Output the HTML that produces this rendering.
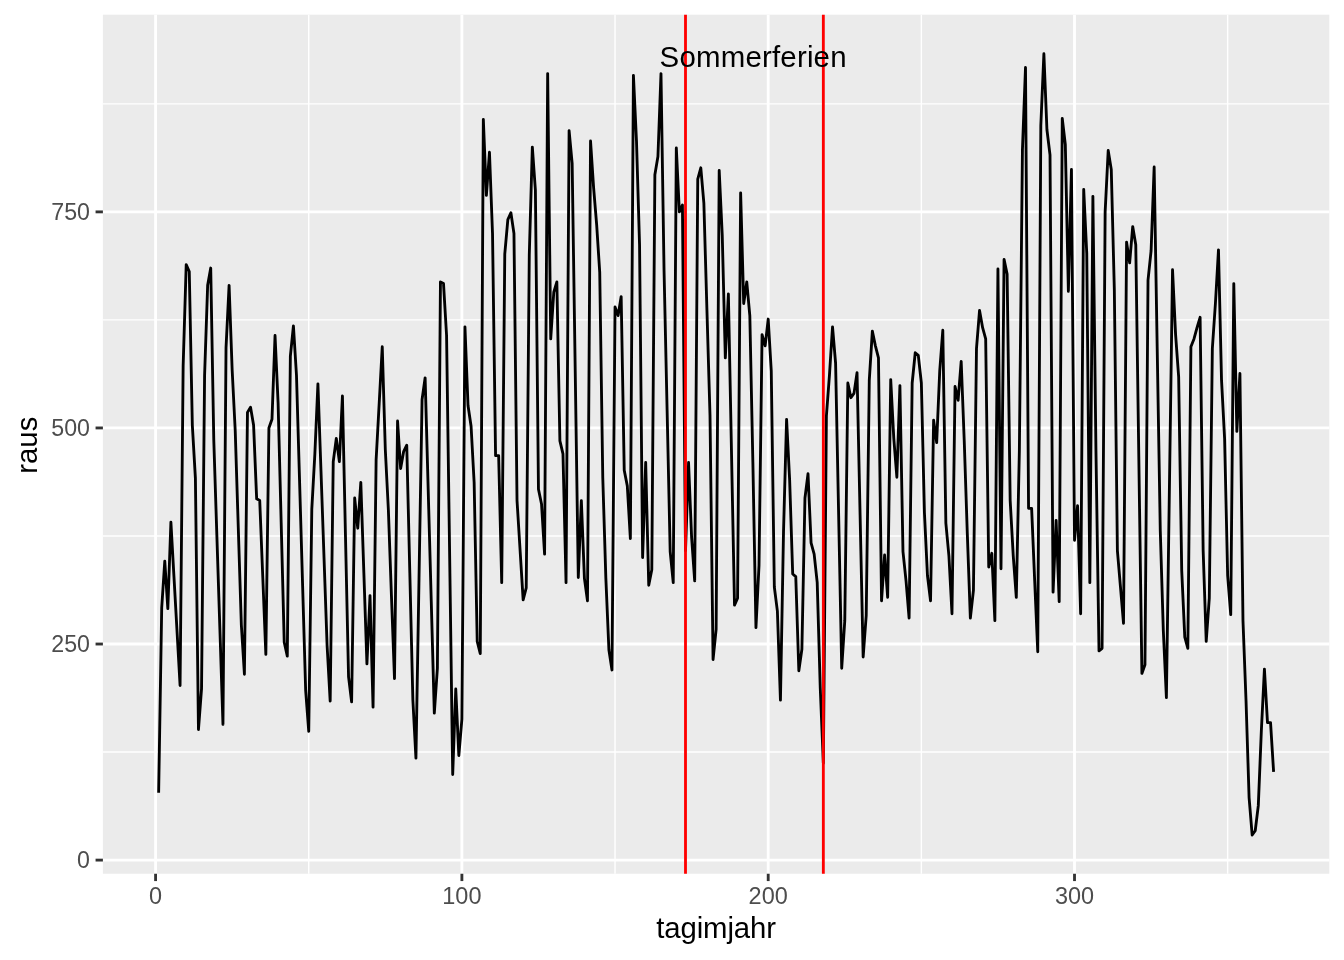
<!DOCTYPE html>
<html><head><meta charset="utf-8"><title>plot</title>
<style>html,body{margin:0;padding:0;background:#fff}svg{display:block}text{font-family:"Liberation Sans",sans-serif}</style>
</head><body>
<svg width="1344" height="960" viewBox="0 0 1344 960">
<rect width="1344" height="960" fill="#fff"/>
<rect x="102.9" y="14.67" width="1226.40" height="859.08" fill="#EBEBEB"/>
<line x1="102.9" x2="1329.3" y1="752.06" y2="752.06" stroke="#fff" stroke-width="1.42"/>
<line x1="102.9" x2="1329.3" y1="535.99" y2="535.99" stroke="#fff" stroke-width="1.42"/>
<line x1="102.9" x2="1329.3" y1="319.91" y2="319.91" stroke="#fff" stroke-width="1.42"/>
<line x1="102.9" x2="1329.3" y1="103.84" y2="103.84" stroke="#fff" stroke-width="1.42"/>
<line y1="14.67" y2="873.75" x1="308.74" x2="308.74" stroke="#fff" stroke-width="1.42"/>
<line y1="14.67" y2="873.75" x1="615.04" x2="615.04" stroke="#fff" stroke-width="1.42"/>
<line y1="14.67" y2="873.75" x1="921.36" x2="921.36" stroke="#fff" stroke-width="1.42"/>
<line y1="14.67" y2="873.75" x1="1227.66" x2="1227.66" stroke="#fff" stroke-width="1.42"/>
<line x1="102.9" x2="1329.3" y1="860.10" y2="860.10" stroke="#fff" stroke-width="2.84"/>
<line x1="102.9" x2="1329.3" y1="644.03" y2="644.03" stroke="#fff" stroke-width="2.84"/>
<line x1="102.9" x2="1329.3" y1="427.95" y2="427.95" stroke="#fff" stroke-width="2.84"/>
<line x1="102.9" x2="1329.3" y1="211.88" y2="211.88" stroke="#fff" stroke-width="2.84"/>
<line y1="14.67" y2="873.75" x1="155.58" x2="155.58" stroke="#fff" stroke-width="2.84"/>
<line y1="14.67" y2="873.75" x1="461.89" x2="461.89" stroke="#fff" stroke-width="2.84"/>
<line y1="14.67" y2="873.75" x1="768.20" x2="768.20" stroke="#fff" stroke-width="2.84"/>
<line y1="14.67" y2="873.75" x1="1074.51" x2="1074.51" stroke="#fff" stroke-width="2.84"/>
<polyline points="158.64,792.68 161.71,607.72 164.77,561.05 167.83,608.59 170.90,522.16 173.96,576.61 177.02,631.06 180.08,685.51 183.15,365.72 186.21,264.60 189.27,271.51 192.34,425.36 195.40,478.08 198.46,729.59 201.53,688.97 204.59,375.23 207.65,285.34 210.72,268.05 213.78,440.05 216.84,534.84 219.91,629.62 222.97,724.40 226.03,347.57 229.09,285.34 232.16,370.04 235.22,430.54 238.28,527.78 241.35,625.01 244.41,674.28 247.47,412.39 250.54,407.21 253.60,425.36 256.66,498.82 259.73,500.55 262.79,577.47 265.85,654.40 268.91,427.95 271.98,419.31 275.04,335.47 278.10,402.89 281.17,522.59 284.23,642.30 287.29,656.13 290.36,356.21 293.42,325.96 296.48,375.23 299.55,480.38 302.61,585.54 305.67,690.70 308.74,731.32 311.80,509.19 314.86,453.88 317.92,383.87 320.99,471.17 324.05,558.46 327.11,645.75 330.18,701.07 333.24,461.66 336.30,438.32 339.37,461.66 342.43,395.97 345.49,536.42 348.56,676.87 351.62,701.93 354.68,497.96 357.74,528.21 360.81,482.40 363.87,573.15 366.93,663.90 370.00,595.62 373.06,707.12 376.12,459.93 379.19,403.32 382.25,346.71 385.31,449.56 388.38,510.06 391.44,595.62 394.50,678.60 397.56,421.04 400.63,468.57 403.69,451.29 406.75,445.24 409.82,572.72 412.88,700.20 415.94,758.11 419.01,578.77 422.07,399.43 425.13,377.82 428.20,489.60 431.26,601.39 434.32,713.17 437.39,668.23 440.45,281.88 443.51,283.61 446.57,335.47 449.64,555.00 452.70,774.53 455.76,688.97 458.83,755.52 461.89,719.22 464.95,326.83 468.02,405.48 471.08,426.22 474.14,482.40 477.21,641.43 480.27,653.53 483.33,119.39 486.39,195.45 489.46,152.24 492.52,233.48 495.58,455.61 498.65,455.61 501.71,582.66 504.77,254.23 507.84,219.65 510.90,212.74 513.96,233.48 517.03,500.55 520.09,550.25 523.15,599.95 526.22,587.85 529.28,255.09 532.34,147.05 535.40,190.27 538.47,489.32 541.53,504.01 544.59,554.14 547.66,73.59 550.72,338.93 553.78,292.25 556.85,281.88 559.91,440.91 562.97,453.88 566.04,582.66 569.10,130.63 572.16,163.47 575.22,370.47 578.29,577.47 581.35,500.55 584.41,578.34 587.48,600.81 590.54,141.00 593.60,187.67 596.67,224.84 599.73,272.38 602.79,478.08 605.86,578.34 608.92,650.08 611.98,669.95 615.04,306.95 618.11,315.59 621.17,296.58 624.23,470.30 627.30,485.86 630.36,538.58 633.42,75.32 636.49,141.00 639.55,244.72 642.61,557.60 645.68,462.52 648.74,585.25 651.80,569.70 654.87,174.71 657.93,156.56 660.99,73.59 664.05,270.65 667.12,410.66 670.18,551.54 673.24,582.66 676.31,147.92 679.37,211.88 682.43,204.96 685.50,550.68 688.56,462.52 691.62,537.72 694.69,580.93 697.75,179.03 700.81,167.80 703.87,203.23 706.94,310.41 710.00,414.99 713.06,659.58 716.13,629.33 719.19,170.39 722.25,235.21 725.32,357.94 728.38,293.98 731.44,449.56 734.51,605.13 737.57,598.22 740.63,192.86 743.70,303.49 746.76,281.88 749.82,315.59 752.88,462.52 755.95,627.60 759.01,565.37 762.07,334.61 765.14,345.84 768.20,319.05 771.26,370.91 774.33,586.98 777.39,611.18 780.45,700.20 783.52,531.67 786.58,419.31 789.64,479.81 792.70,574.02 795.77,576.61 798.83,670.82 801.89,649.21 804.96,497.96 808.02,473.76 811.08,542.90 814.15,554.14 817.21,582.66 820.27,688.10 823.34,763.30 826.40,415.85 829.46,375.23 832.53,326.83 835.59,363.13 838.65,515.24 841.71,668.23 844.78,620.69 847.84,383.01 850.90,397.70 853.97,393.38 857.03,372.63 860.09,514.81 863.16,656.99 866.22,615.50 869.28,380.41 872.35,331.15 875.41,345.84 878.47,357.94 881.53,600.81 884.60,555.00 887.66,597.35 890.72,379.55 893.79,438.32 896.85,477.22 899.91,385.60 902.98,551.54 906.04,580.93 909.10,618.10 912.17,383.01 915.23,352.76 918.29,355.35 921.36,383.01 924.42,512.65 927.48,575.75 930.54,600.81 933.61,420.17 936.67,442.64 939.73,370.91 942.80,330.28 945.86,523.02 948.92,555.87 951.99,613.77 955.05,386.46 958.11,400.29 961.18,361.40 964.24,440.91 967.30,533.39 970.36,618.10 973.43,590.44 976.49,348.43 979.55,310.41 982.62,327.69 985.68,338.93 988.74,567.10 991.81,553.27 994.87,620.69 997.93,268.92 1001.00,568.83 1004.06,259.41 1007.12,274.10 1010.18,500.55 1013.25,555.87 1016.31,597.35 1019.37,450.42 1022.44,149.65 1025.50,67.54 1028.56,508.33 1031.63,508.33 1034.69,580.93 1037.75,651.80 1040.82,125.45 1043.88,53.71 1046.94,129.77 1050.01,154.83 1053.07,592.17 1056.13,520.43 1059.19,601.67 1062.26,118.53 1065.32,144.46 1068.38,291.39 1071.45,169.52 1074.51,540.31 1077.57,505.74 1080.64,613.77 1083.70,189.40 1086.76,253.36 1089.83,582.66 1092.89,196.32 1095.95,450.42 1099.01,650.94 1102.08,648.35 1105.14,211.88 1108.20,150.51 1111.27,169.52 1114.33,289.66 1117.39,550.68 1120.46,586.98 1123.52,623.28 1126.58,242.13 1129.65,262.87 1132.71,226.57 1135.77,244.72 1138.84,459.06 1141.90,673.41 1144.96,664.77 1148.02,280.15 1151.09,250.77 1154.15,166.93 1157.21,348.87 1160.28,530.80 1163.34,631.06 1166.40,697.61 1169.47,483.70 1172.53,269.78 1175.59,334.61 1178.66,376.96 1181.72,570.56 1184.78,637.11 1187.84,648.35 1190.91,346.71 1193.97,338.93 1197.03,327.69 1200.10,317.32 1203.16,550.68 1206.22,641.43 1209.29,598.22 1212.35,348.43 1215.41,303.49 1218.48,249.90 1221.54,380.41 1224.60,438.32 1227.66,575.75 1230.73,614.64 1233.79,283.61 1236.85,431.41 1239.92,373.50 1242.98,620.69 1246.04,701.07 1249.11,797.87 1252.17,835.04 1255.23,830.71 1258.30,805.65 1261.36,730.46 1264.42,669.09 1267.49,722.68 1270.55,722.68 1273.61,771.94" fill="none" stroke="#000" stroke-width="2.84" stroke-linejoin="round" stroke-linecap="butt"/>
<line y1="14.67" y2="873.75" x1="685.50" x2="685.50" stroke="#FF0000" stroke-width="2.84"/>
<line y1="14.67" y2="873.75" x1="823.34" x2="823.34" stroke="#FF0000" stroke-width="2.84"/>
<text x="659.55" y="67" font-size="29.44" textLength="187.0" lengthAdjust="spacing" fill="#000">Sommerferien</text>
<line x1="95.57" x2="102.9" y1="860.10" y2="860.10" stroke="#333" stroke-width="2.84"/>
<text x="90.00" y="868.40" font-size="23.2" text-anchor="end" fill="#4D4D4D">0</text>
<line x1="95.57" x2="102.9" y1="644.03" y2="644.03" stroke="#333" stroke-width="2.84"/>
<text x="90.00" y="652.33" font-size="23.2" text-anchor="end" fill="#4D4D4D">250</text>
<line x1="95.57" x2="102.9" y1="427.95" y2="427.95" stroke="#333" stroke-width="2.84"/>
<text x="90.00" y="436.25" font-size="23.2" text-anchor="end" fill="#4D4D4D">500</text>
<line x1="95.57" x2="102.9" y1="211.88" y2="211.88" stroke="#333" stroke-width="2.84"/>
<text x="90.00" y="220.18" font-size="23.2" text-anchor="end" fill="#4D4D4D">750</text>
<line y1="873.75" y2="881.08" x1="155.58" x2="155.58" stroke="#333" stroke-width="2.84"/>
<text x="155.58" y="903.75" font-size="23.47" text-anchor="middle" fill="#4D4D4D">0</text>
<line y1="873.75" y2="881.08" x1="461.89" x2="461.89" stroke="#333" stroke-width="2.84"/>
<text x="461.89" y="903.75" font-size="23.47" text-anchor="middle" fill="#4D4D4D">100</text>
<line y1="873.75" y2="881.08" x1="768.20" x2="768.20" stroke="#333" stroke-width="2.84"/>
<text x="768.20" y="903.75" font-size="23.47" text-anchor="middle" fill="#4D4D4D">200</text>
<line y1="873.75" y2="881.08" x1="1074.51" x2="1074.51" stroke="#333" stroke-width="2.84"/>
<text x="1074.51" y="903.75" font-size="23.47" text-anchor="middle" fill="#4D4D4D">300</text>
<text x="716.10" y="938" font-size="29.33" text-anchor="middle" textLength="119.8" lengthAdjust="spacing" fill="#000">tagimjahr</text>
<text transform="translate(37,445.21) rotate(-90)" font-size="29.33" text-anchor="middle" fill="#000">raus</text>
</svg>
</body></html>
